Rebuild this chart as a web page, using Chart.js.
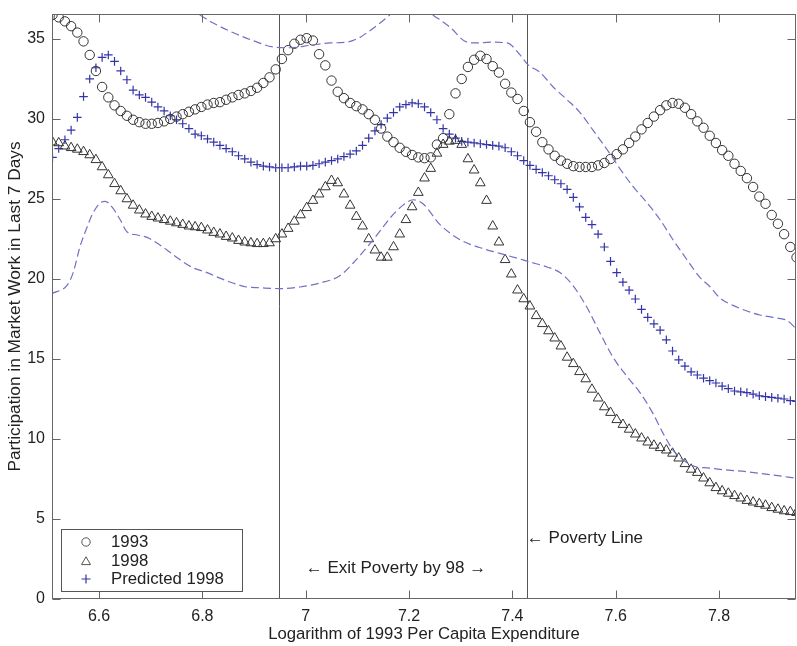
<!DOCTYPE html>
<html>
<head>
<meta charset="utf-8">
<script src="https://cdn.jsdelivr.net/npm/chart.js@4.4.1/dist/chart.umd.min.js"></script>
<style>
  html, body { margin: 0; padding: 0; background: #fff; overflow: hidden; }
  #wrap { width: 797px; height: 646px; }
  canvas { display: block; }
</style>
</head>
<body>
<div id="wrap"><canvas id="c" width="797" height="646"></canvas></div>
<script>
// Log of 1993 per-capita expenditure: evaluation grid of the smoothed curves
const logExpenditure = [
  6.510, 6.522, 6.534, 6.546, 6.558, 6.570, 6.582, 6.594, 6.606, 6.618,
  6.630, 6.642, 6.654, 6.666, 6.678, 6.690, 6.702, 6.714, 6.726, 6.738,
  6.750, 6.762, 6.774, 6.786, 6.798, 6.810, 6.822, 6.834, 6.846, 6.858,
  6.870, 6.882, 6.894, 6.906, 6.918, 6.930, 6.942, 6.954, 6.966, 6.978,
  6.990, 7.002, 7.014, 7.026, 7.038, 7.050, 7.062, 7.074, 7.086, 7.098,
  7.110, 7.122, 7.134, 7.146, 7.158, 7.170, 7.182, 7.194, 7.206, 7.218,
  7.230, 7.242, 7.254, 7.266, 7.278, 7.290, 7.302, 7.314, 7.326, 7.338,
  7.350, 7.362, 7.374, 7.386, 7.398, 7.410, 7.422, 7.434, 7.446, 7.458,
  7.470, 7.482, 7.494, 7.506, 7.518, 7.530, 7.542, 7.554, 7.566, 7.578,
  7.590, 7.602, 7.614, 7.626, 7.638, 7.650, 7.662, 7.674, 7.686, 7.698,
  7.710, 7.722, 7.734, 7.746, 7.758, 7.770, 7.782, 7.794, 7.806, 7.818,
  7.830, 7.842, 7.854, 7.866, 7.878, 7.890, 7.902, 7.914, 7.926, 7.938,
  7.950
];

// Participation in market work, 1993
const work1993 = [
  36.5, 36.35, 36.1, 35.8, 35.4, 34.85, 34.0, 33.0, 32.0, 31.35,
  30.85, 30.5, 30.2, 29.95, 29.8, 29.7, 29.7, 29.75, 29.85, 30.0,
  30.15, 30.3, 30.45, 30.6, 30.75, 30.9, 31.0, 31.05, 31.2, 31.35,
  31.5, 31.6, 31.75, 31.95, 32.25, 32.6, 33.1, 33.75, 34.3, 34.7,
  34.95, 35.05, 34.9, 34.05, 33.35, 32.4, 31.7, 31.3, 31.0, 30.8,
  30.6, 30.3, 29.95, 29.4, 28.9, 28.55, 28.2, 27.95, 27.75, 27.6,
  27.55, 27.6, 28.4, 28.8, 30.3, 31.6, 32.5, 33.25, 33.7, 33.95,
  33.75, 33.3, 32.9, 32.2, 31.65, 31.25, 30.5, 29.8, 29.2, 28.55,
  28.1, 27.7, 27.4, 27.2, 27.05, 27.0, 27.0, 27.0, 27.1, 27.25,
  27.5, 27.8, 28.1, 28.5, 28.9, 29.35, 29.75, 30.15, 30.55, 30.85,
  31.0, 30.95, 30.7, 30.3, 29.85, 29.45, 28.95, 28.5, 28.05, 27.7,
  27.2, 26.75, 26.3, 25.75, 25.15, 24.7, 24.0, 23.45, 22.8, 22.0,
  21.35
];

// Participation in market work, 1998
const work1998 = [
  28.55, 28.5, 28.3, 28.2, 28.1, 27.95, 27.75, 27.45, 27.0, 26.5,
  25.95, 25.5, 25.0, 24.6, 24.3, 24.05, 23.9, 23.8, 23.7, 23.6,
  23.5, 23.4, 23.3, 23.25, 23.2, 23.05, 22.9, 22.8, 22.65, 22.55,
  22.4, 22.3, 22.25, 22.2, 22.2, 22.25, 22.5, 22.8, 23.15, 23.6,
  24.0, 24.45, 24.9, 25.3, 25.75, 26.15, 26.0, 25.3, 24.6, 23.9,
  23.3, 22.5, 21.8, 21.35, 21.35, 22.0, 22.8, 23.7, 24.5, 25.4,
  26.3, 26.9, 27.85, 28.4, 28.6, 28.65, 28.4, 27.5, 26.8, 26.0,
  24.9, 23.3, 22.3, 21.2, 20.3, 19.3, 18.75, 18.3, 17.7, 17.2,
  16.75, 16.3, 15.8, 15.1, 14.7, 14.2, 13.75, 13.1, 12.55, 12.0,
  11.65, 11.2, 10.9, 10.6, 10.3, 10.05, 9.8, 9.6, 9.45, 9.3,
  9.1, 8.8, 8.45, 8.1, 7.9, 7.55, 7.25, 6.95, 6.75, 6.6,
  6.45, 6.3, 6.15, 6.05, 5.95, 5.85, 5.7, 5.6, 5.5, 5.45,
  5.4
];

// Predicted 1998 participation
const predicted1998 = [
  27.6, 28.15, 28.7, 29.3, 30.1, 31.4, 32.5, 33.2, 33.85, 34.0,
  33.6, 33.0, 32.45, 31.8, 31.5, 31.35, 31.05, 30.75, 30.5, 30.2,
  29.95, 29.7, 29.4, 29.05, 28.95, 28.75, 28.55, 28.35, 28.15, 27.95,
  27.7, 27.5, 27.3, 27.15, 27.05, 27.0, 26.95, 26.95, 26.95, 27.0,
  27.05, 27.05, 27.1, 27.2, 27.3, 27.4, 27.5, 27.65, 27.8, 28.0,
  28.35, 28.8, 29.25, 29.65, 30.05, 30.4, 30.75, 30.9, 31.0, 30.95,
  30.75, 30.4, 29.95, 29.4, 29.05, 28.8, 28.6, 28.55, 28.5, 28.45,
  28.4, 28.35, 28.3, 28.2, 27.95, 27.7, 27.4, 27.1, 26.85, 26.65,
  26.45, 26.2, 25.95, 25.6, 25.1, 24.5, 23.85, 23.4, 22.8, 22.0,
  21.1, 20.4, 19.8, 19.3, 18.75, 18.1, 17.6, 17.2, 16.8, 16.2,
  15.5, 14.95, 14.55, 14.2, 14.0, 13.8, 13.65, 13.5, 13.3, 13.15,
  13.0, 12.95, 12.9, 12.8, 12.7, 12.65, 12.6, 12.55, 12.5, 12.4,
  12.35
];

// Upper confidence band of the prediction (null where it leaves the plot)
const upperBandX = [
  6.795, 6.821, 6.859, 6.898, 6.937, 6.970, 7.008, 7.047, 7.080, 7.105,
  7.119, 7.144, 7.163, 7.200, 7.246, 7.279, 7.312, 7.332, 7.357, 7.390,
  7.415, 7.430, 7.454, 7.479, 7.506, 7.531, 7.556, 7.583, 7.608, 7.633,
  7.661, 7.686, 7.711, 7.738, 7.763, 7.783, 7.802, 7.827, 7.854, 7.879,
  7.904, 7.932, 7.949
];
const upperBandY = [
  36.5, 36.0, 35.4, 34.9, 34.5, 34.45, 34.6, 34.75, 34.8, 35.1,
  35.4, 36.0, 36.5, null, 36.5, 35.75, 34.8, 34.75, 34.8, 34.75,
  34.0, 33.4, 32.9, 32.0, 31.2, 30.4, 29.3, 28.1, 26.9, 25.8,
  24.75, 23.7, 22.45, 21.2, 20.1, 19.5, 18.8, 18.35, 18.0, 17.75,
  17.6, 17.4, 16.9
];

// Lower confidence band of the prediction
const lowerBandX = [
  6.509, 6.538, 6.550, 6.563, 6.577, 6.588, 6.602, 6.612, 6.625, 6.641,
  6.654, 6.674, 6.693, 6.712, 6.732, 6.757, 6.782, 6.809, 6.834, 6.859,
  6.886, 6.912, 6.950, 6.989, 7.028, 7.066, 7.092, 7.119, 7.144, 7.163,
  7.188, 7.208, 7.227, 7.260, 7.299, 7.338, 7.376, 7.409, 7.435, 7.467,
  7.492, 7.517, 7.544, 7.570, 7.595, 7.622, 7.647, 7.672, 7.691, 7.711,
  7.730, 7.757, 7.777, 7.802, 7.854, 7.904, 7.949
];
const lowerBandY = [
  19.1, 19.6, 20.4, 22.0, 23.25, 24.1, 24.75, 24.85, 24.5, 23.7,
  22.95, 22.75, 22.6, 22.25, 21.8, 21.2, 20.7, 20.4, 20.05, 19.75,
  19.5, 19.45, 19.4, 19.5, 19.75, 20.2, 21.0, 22.0, 23.0, 23.8,
  24.6, 24.95, 24.7, 23.4, 22.45, 21.95, 21.6, 21.3, 21.05, 20.75,
  20.4, 19.6, 18.25, 16.6, 15.1, 13.9, 12.9, 11.6, 10.4, 9.3,
  8.7, 8.25, 8.2, 8.1, 7.95, 7.75, 7.55
];

const xTickValues = [6.6, 6.8, 7, 7.2, 7.4, 7.6, 7.8];
const yTickValues = [0, 5, 10, 15, 20, 25, 30, 35];
const seriesNames = ['1993', '1998', 'Predicted 1998'];

// Reference lines and their notes
const exitPovertyX = 6.948;
const povertyLineX = 7.428;
const exitNote = { x: 7.0, y: 1.9, text: '\u2190 Exit Poverty by 98 \u2192' };
const povertyNote = { x: 7.428, y: 3.8, text: '\u2190 Poverty Line' };

const FONT = '"Liberation Sans", Arial, Helvetica, sans-serif';
const INK = '#222';
const MARK = '#333';
const BLUE = '#3434a8';
const BAND = '#7070c4';

const pairs = (xs, ys) => xs.map((x, i) => ({ x: x, y: ys[i] }));

// Frame, inward tick marks, reference lines, notes and legend
const decorations = {
  id: 'decorations',
  beforeDatasetsDraw(chart) {
    const { ctx, chartArea: a, scales: { x } } = chart;
    ctx.save();
    ctx.strokeStyle = '#555';
    ctx.lineWidth = 1;
    [exitPovertyX, povertyLineX].forEach(v => {
      const px = Math.round(x.getPixelForValue(v)) + 0.5;
      ctx.beginPath(); ctx.moveTo(px, a.top); ctx.lineTo(px, a.bottom); ctx.stroke();
    });
    ctx.restore();
  },
  afterDraw(chart) {
    const { ctx, chartArea: a, scales: { x, y } } = chart;
    ctx.save();
    ctx.strokeStyle = '#666';
    ctx.lineWidth = 1;
    const L = Math.round(a.left) + 0.5, R = Math.round(a.right) - 0.5;
    const T = Math.round(a.top) + 0.5, B = Math.round(a.bottom) - 0.5;
    ctx.strokeRect(L, T, R - L, B - T);
    const tl = 8;
    ctx.beginPath();
    x.ticks.forEach(t => {
      const px = Math.round(x.getPixelForValue(t.value)) + 0.5;
      ctx.moveTo(px, B); ctx.lineTo(px, B - tl);
      ctx.moveTo(px, T); ctx.lineTo(px, T + tl);
    });
    y.ticks.forEach(t => {
      const py = Math.round(y.getPixelForValue(t.value)) + 0.5;
      ctx.moveTo(L, py); ctx.lineTo(L + tl, py);
      ctx.moveTo(R, py); ctx.lineTo(R - tl, py);
    });
    ctx.stroke();

    // notes beside the reference lines
    ctx.fillStyle = INK;
    ctx.font = '17px ' + FONT;
    ctx.textBaseline = 'middle';
    ctx.textAlign = 'left';
    ctx.fillText(exitNote.text, x.getPixelForValue(exitNote.x), y.getPixelForValue(exitNote.y));
    ctx.fillText(povertyNote.text, x.getPixelForValue(povertyNote.x), y.getPixelForValue(povertyNote.y));

    // legend box in the lower-left corner
    const bx = a.left + 9, by = a.bottom - 70, bw = 181, bh = 62;
    ctx.fillStyle = '#fff';
    ctx.fillRect(bx, by, bw, bh);
    ctx.strokeStyle = '#555';
    ctx.strokeRect(Math.round(bx) + 0.5, Math.round(by) + 0.5, bw, bh);
    const mx = bx + 25, tx = bx + 50;
    const rows = [by + 13, by + 32, by + 50];
    ctx.lineWidth = 1;
    // circle
    ctx.strokeStyle = '#555';
    ctx.beginPath(); ctx.arc(mx, rows[0], 4.2, 0, Math.PI * 2); ctx.stroke();
    // triangle
    ctx.beginPath();
    for (let k = 0; k < 3; k++) {
      const ang = k * 2 * Math.PI / 3;
      const px = mx + Math.sin(ang) * 5.2, py = rows[1] + 1 - Math.cos(ang) * 5.2;
      if (k === 0) ctx.moveTo(px, py); else ctx.lineTo(px, py);
    }
    ctx.closePath(); ctx.stroke();
    // plus
    ctx.strokeStyle = BLUE;
    ctx.lineWidth = 1.2;
    ctx.beginPath();
    ctx.moveTo(mx - 4.5, rows[2]); ctx.lineTo(mx + 4.5, rows[2]);
    ctx.moveTo(mx, rows[2] - 4.5); ctx.lineTo(mx, rows[2] + 4.5);
    ctx.stroke();
    ctx.fillStyle = INK;
    ctx.font = '16.8px ' + FONT;
    seriesNames.forEach((s, i) => ctx.fillText(s, tx, rows[i]));
    ctx.restore();
  }
};

new Chart(document.getElementById('c'), {
  type: 'scatter',
  data: {
    datasets: [
      {
        label: 'Upper band',
        data: pairs(upperBandX, upperBandY),
        showLine: true, spanGaps: false,
        borderColor: BAND, borderWidth: 1.2, borderDash: [8, 4],
        pointRadius: 0, cubicInterpolationMode: 'monotone'
      },
      {
        label: 'Lower band',
        data: pairs(lowerBandX, lowerBandY),
        showLine: true,
        borderColor: BAND, borderWidth: 1.2, borderDash: [8, 4],
        pointRadius: 0, cubicInterpolationMode: 'monotone'
      },
      {
        label: seriesNames[0],
        data: pairs(logExpenditure, work1993),
        pointStyle: 'circle', pointRadius: 4.7,
        borderColor: MARK, backgroundColor: 'rgba(0,0,0,0)', borderWidth: 1
      },
      {
        label: seriesNames[1],
        data: pairs(logExpenditure, work1998),
        pointStyle: 'triangle', pointRadius: 5.6,
        borderColor: MARK, backgroundColor: 'rgba(0,0,0,0)', borderWidth: 1
      },
      {
        label: seriesNames[2],
        data: pairs(logExpenditure, predicted1998),
        pointStyle: 'cross', pointRadius: 4.3,
        borderColor: BLUE, backgroundColor: BLUE, borderWidth: 1.2
      }
    ]
  },
  options: {
    responsive: false,
    animation: false,
    devicePixelRatio: 1,
    clip: 0,
    layout: { autoPadding: false, padding: { top: 14, right: 1, left: 0, bottom: 0 } },
    plugins: { legend: { display: false }, tooltip: { enabled: false } },
    scales: {
      x: {
        type: 'linear', min: 6.509, max: 7.949,
        afterFit(s) { s.height = 47; s.paddingLeft = 0; s.paddingRight = 0; },
        afterBuildTicks(s) { s.ticks = xTickValues.map(v => ({ value: v })); },
        grid: { display: false, drawTicks: false },
        border: { display: false },
        ticks: {
          color: INK, font: { size: 16, family: FONT }, padding: 8,
          maxRotation: 0, autoSkip: false, callback: v => String(v)
        },
        title: {
          display: true, text: 'Logarithm of 1993 Per Capita Expenditure',
          color: INK, font: { size: 16.7, family: FONT }, padding: { top: 0, bottom: 2 }
        }
      },
      y: {
        type: 'linear', min: 0, max: 36.56,
        afterFit(s) { s.width = 52; s.paddingTop = 0; s.paddingBottom = 0; },
        afterBuildTicks(s) { s.ticks = yTickValues.map(v => ({ value: v })); },
        grid: { display: false, drawTicks: false },
        border: { display: false },
        ticks: { color: INK, font: { size: 16, family: FONT }, padding: 7 },
        title: {
          display: true, text: 'Participation in Market Work in Last 7 Days',
          color: INK, font: { size: 17.3, family: FONT }, padding: { top: 5, bottom: 0 }
        }
      }
    }
  },
  plugins: [decorations]
});
</script>
</body>
</html>
